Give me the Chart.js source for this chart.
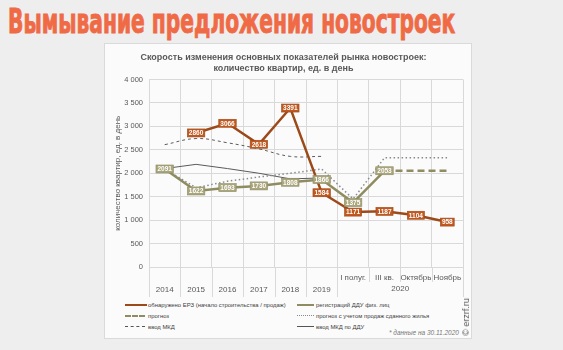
<!DOCTYPE html>
<html lang="ru">
<head>
<meta charset="utf-8">
<title>Вымывание предложения новостроек</title>
<script src="https://cdn.jsdelivr.net/npm/chart.js@4/dist/chart.umd.min.js"></script>
<style>
  html, body { margin: 0; padding: 0; }
  body {
    width: 563px; height: 350px; overflow: hidden; position: relative;
    background: #eeeeee; font-family: "Liberation Sans", Arial, sans-serif;
  }
  #headline {
    position: absolute; left: 8px; top: 4px; margin: 0;
    font-family: "Liberation Sans Narrow", "DejaVu Sans Condensed", sans-serif;
    font-weight: bold; font-size: 34px; line-height: 34px; color: #ef6a45;
    -webkit-text-stroke: 0.9px #ef6a45;
    white-space: nowrap; transform-origin: 0 0;
  }
  #card {
    position: absolute; left: 104px; top: 43px; width: 366px; height: 294px;
    background: #fbfbfb; border: 1px solid #dadada;
  }
  #chartBox { position: absolute; left: 104px; top: 43px; width: 367px; height: 256px; }
  .leg { position: absolute; font-size: 5.9px; color: #404040; white-space: nowrap; line-height: 8px; }
  .sample { position: absolute; height: 0; }
  #note {
    position: absolute; left: 389px; top: 329px; font-size: 6.5px; font-style: italic; color: #777;
    white-space: nowrap;
  }
  #copy {
    position: absolute; left: 466px; top: 317px; font-size: 9px; color: #555; white-space: nowrap;
    transform: translate(-50%, -50%) rotate(-90deg);
  }
</style>
</head>
<body>
<h1 id="headline">Вымывание предложения новостроек</h1>
<div id="card"></div>
<div id="chartBox"><canvas id="speedChart" width="367" height="256"></canvas></div>

<!-- legend -->
<div class="sample" style="left:125px;top:304px;width:22px;border-top:2.5px solid #9c4a1a"></div>
<div class="leg" style="left:148px;top:301px">обнаружено ЕРЗ (начало строительства / продаж)</div>
<div class="sample" style="left:297px;top:304px;width:17px;border-top:2.5px solid #8f8c62"></div>
<div class="leg" style="left:316px;top:301px">регистраций ДДУ физ. лиц</div>
<div class="sample" style="left:125px;top:315px;width:20px;border-top:2px dashed #8f8c62"></div>
<div class="leg" style="left:148px;top:312px">прогноз</div>
<div class="sample" style="left:297px;top:315px;width:17px;border-top:1.5px dotted #8a8a8a"></div>
<div class="leg" style="left:316px;top:312px">прогноз с учетом продаж сданного жилья</div>
<div class="sample" style="left:125px;top:326px;width:20px;border-top:1px dashed #555"></div>
<div class="leg" style="left:148px;top:323px">ввод МКД</div>
<div class="sample" style="left:297px;top:326px;width:17px;border-top:1px solid #555"></div>
<div class="leg" style="left:316px;top:323px">ввод МКД по ДДУ</div>

<div id="note">* данные на 30.11.2020</div>
<div id="copy">© erzrf.ru</div>

<script>
// categories: years, then the 2020 breakdown
const periods = ['2014', '2015', '2016', '2017', '2018', '2019', 'I полуг.', 'III кв.', 'Октябрь', 'Ноябрь'];
const yearGroup = '2020';
const firstSubIndex = 6;

// flats per day
const startedErz = [null, 2860, 3066, 2618, 3391, 1584, 1171, 1187, 1104, 958];
const dduRegistered = [2091, 1622, 1693, 1730, 1808, 1866, 1375, 2053, null, null];
const dduForecast = [null, null, null, null, null, null, null, 2053, 2053, 2053];
const forecastWithReady = [2091, 1690, 1830, 1920, 2000, 2090, 1450, 2330, 2330, 2330];
const commissioned = [2610, 2740, 2650, 2520, 2360, 2360, null, null, null, null];
const commissionedDdu = [2100, 2190, 2100, 2000, 1880, 1900, null, null, null, null];

const yTicks = [0, 500, 1000, 1500, 2000, 2500, 3000, 3500, 4000];

const font = '"Liberation Sans", Arial, sans-serif';
const textGray = '#595959';

// stretch the headline to its width
const headline = document.getElementById('headline');
headline.style.transform = 'scaleX(' + (447 / headline.scrollWidth) + ')';

function fmt(v) {
  return String(v).replace(/\B(?=(\d{3})+(?!\d))/g, ' ');
}

// value boxes on top of the points
const boxLabels = {
  id: 'boxLabels',
  afterDatasetsDraw(chart) {
    const ctx = chart.ctx;
    ctx.save();
    ctx.font = 'bold 6.5px ' + font;
    ctx.textAlign = 'center';
    ctx.textBaseline = 'middle';
    chart.data.datasets.forEach((ds, i) => {
      if (!ds.boxFill) return;
      const meta = chart.getDatasetMeta(i);
      meta.data.forEach((pt, j) => {
        const v = ds.data[j];
        if (v == null) return;
        const txt = String(v);
        const w = ctx.measureText(txt).width + 3;
        ctx.fillStyle = ds.boxFill;
        ctx.fillRect(pt.x - w / 2, pt.y - 4, w, 8);
        ctx.strokeStyle = ds.borderColor;
        ctx.lineWidth = 0.6;
        ctx.strokeRect(pt.x - w / 2, pt.y - 4, w, 8);
        ctx.fillStyle = '#ffffff';
        ctx.fillText(txt, pt.x, pt.y + 0.5);
      });
    });
    ctx.restore();
  }
};

// second level of the category axis: separators and the 2020 group label
const groupAxis = {
  id: 'groupAxis',
  afterDraw(chart) {
    const x = chart.scales.x;
    const ctx = chart.ctx;
    const bottom = chart.chartArea.bottom;
    const step = x.getPixelForValue(1) - x.getPixelForValue(0);
    ctx.save();
    ctx.strokeStyle = '#d9d9d9';
    ctx.lineWidth = 1;
    for (let i = 0; i <= periods.length; i++) {
      const px = Math.round(x.getPixelForValue(i) - step / 2) + 0.5;
      const len = (i > firstSubIndex && i < periods.length) ? 15 : 30;
      ctx.beginPath();
      ctx.moveTo(px, bottom);
      ctx.lineTo(px, bottom + len);
      ctx.stroke();
    }
    const cx = (x.getPixelForValue(firstSubIndex) + x.getPixelForValue(periods.length - 1)) / 2;
    ctx.fillStyle = textGray;
    ctx.font = '8px ' + font;
    ctx.textAlign = 'center';
    ctx.textBaseline = 'middle';
    ctx.fillText(yearGroup, cx, bottom + 22);
    ctx.restore();
  }
};

const labels = periods.map((p, i) => i < firstSubIndex ? ['', p] : [p, '']);

new Chart(document.getElementById('speedChart'), {
  type: 'line',
  data: {
    labels: labels,
    datasets: [
      {
        label: 'обнаружено ЕРЗ (начало строительства / продаж)',
        data: startedErz,
        borderColor: '#9c4a1a',
        boxFill: '#c0581f',
        borderWidth: 2.5,
        order: 1
      },
      {
        label: 'регистраций ДДУ физ. лиц',
        data: dduRegistered,
        borderColor: '#8f8c62',
        boxFill: '#a9a57c',
        borderWidth: 2.5,
        order: 2
      },
      {
        label: 'прогноз',
        data: dduForecast,
        borderColor: '#8f8c62',
        borderDash: [7, 4],
        borderWidth: 2.5,
        order: 3
      },
      {
        label: 'прогноз с учетом продаж сданного жилья',
        data: forecastWithReady,
        borderColor: '#8a8a8a',
        borderDash: [1.5, 2.5],
        borderWidth: 1.5,
        order: 4
      },
      {
        label: 'ввод МКД',
        data: commissioned,
        borderColor: '#5a5a5a',
        borderDash: [3, 3],
        borderWidth: 1,
        tension: 0.4,
        order: 5
      },
      {
        label: 'ввод МКД по ДДУ',
        data: commissionedDdu,
        borderColor: '#5a5a5a',
        borderWidth: 1,
        order: 6
      }
    ]
  },
  options: {
    responsive: false,
    animation: false,
    spanGaps: false,
    elements: { point: { radius: 0, hoverRadius: 0 }, line: { fill: false } },
    layout: { padding: { left: 0, right: 8, top: 0, bottom: 0 } },
    plugins: {
      legend: { display: false },
      tooltip: { enabled: false },
      title: {
        display: true,
        text: ['Скорость изменения основных показателей рынка новостроек:', 'количество квартир, ед. в день'],
        color: textGray,
        font: { family: font, size: 9, weight: 'bold', lineHeight: 1.25 },
        padding: { top: 9, bottom: 5 }
      }
    },
    scales: {
      x: {
        offset: true,
        grid: { offset: true, color: '#d9d9d9', drawTicks: false },
        border: { display: false },
        ticks: {
          color: textGray,
          font: { family: font, size: 8, lineHeight: 1.6 },
          padding: 4,
          maxRotation: 0,
          autoSkip: false
        },
        afterFit(scale) { scale.height = 32; }
      },
      y: {
        min: 0,
        max: 4000,
        grid: {
          color: ctx => (ctx.tick && ctx.tick.value % 500 === 0) ? '#d9d9d9' : '#ececec',
          drawTicks: false
        },
        border: { display: false },
        ticks: {
          stepSize: 250,
          color: textGray,
          font: { family: font, size: 7.5 },
          padding: 6,
          callback: v => yTicks.includes(v) ? fmt(v) : ''
        },
        title: {
          display: true,
          text: 'количество квартир, ед. в день',
          color: textGray,
          font: { family: font, size: 8 },
          padding: { top: 9, bottom: 0 }
        },
        afterFit(scale) { scale.width = 45; }
      }
    }
  },
  plugins: [boxLabels, groupAxis]
});
</script>
</body>
</html>
